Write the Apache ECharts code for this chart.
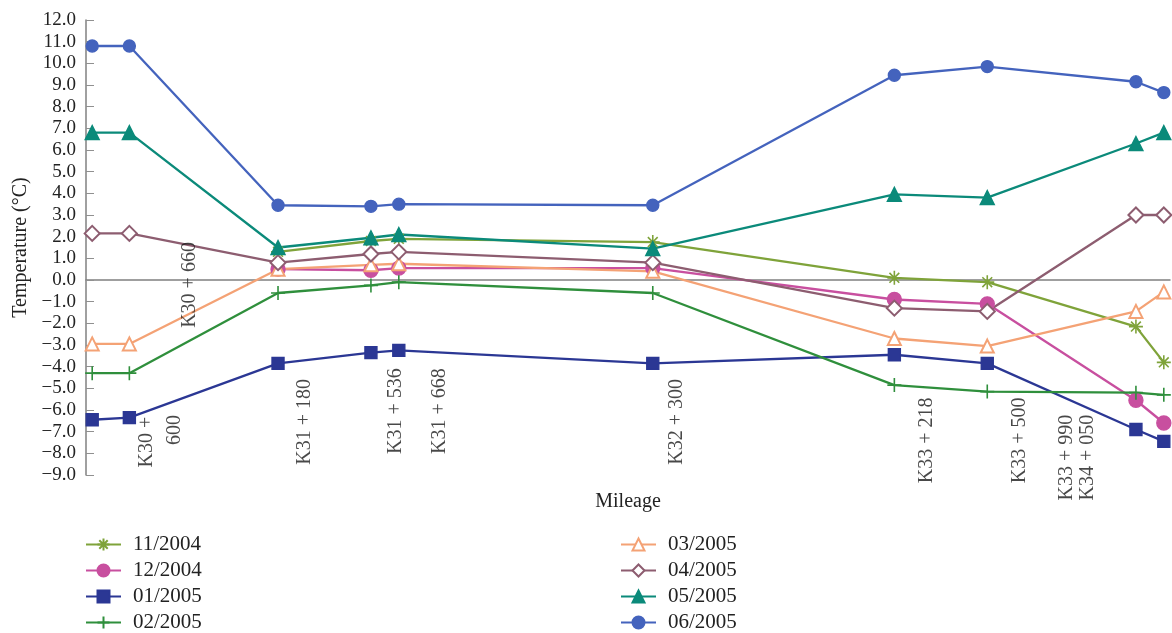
<!DOCTYPE html>
<html>
<head>
<meta charset="utf-8">
<script src="https://cdn.jsdelivr.net/npm/echarts@6/dist/echarts.min.js"></script>
<style>
  html, body { margin: 0; padding: 0; background: #fff; }
  #chart { width: 1172px; height: 633px; }
</style>
</head>
<body>
<div id="chart"></div>
<script>
const mileagePos = [30.52, 30.64, 31.12, 31.42, 31.51, 32.33, 33.11, 33.41, 33.89, 33.98];

const monthNames = ['11/2004', '12/2004', '01/2005', '02/2005', '03/2005', '04/2005', '05/2005', '06/2005'];

// temperature (°C) per month at each point
const t1104 = [null, null, 1.3, 1.8, 1.9, 1.75, 0.1, -0.1, -2.15, -3.8];
const t1204 = [null, null, 0.5, 0.45, 0.55, 0.55, -0.9, -1.1, -5.55, -6.6];
const t0105 = [-6.45, -6.35, -3.85, -3.35, -3.25, -3.85, -3.45, -3.85, -6.9, -7.45];
const t0205 = [-4.3, -4.3, -0.6, -0.25, -0.1, -0.6, -4.85, -5.15, -5.2, -5.3];
const t0305 = [-2.95, -2.95, 0.5, 0.7, 0.75, 0.4, -2.7, -3.05, -1.45, -0.55];
const t0405 = [2.15, 2.15, 0.8, 1.2, 1.3, 0.8, -1.3, -1.45, 3.0, 3.0];
const t0505 = [6.8, 6.8, 1.5, 1.95, 2.1, 1.45, 3.95, 3.8, 6.3, 6.8];
const t0605 = [10.8, 10.8, 3.45, 3.4, 3.5, 3.45, 9.45, 9.85, 9.15, 8.65];

// mileage annotations written inside the plot
const mileTexts = ['K30 +', '600', 'K30 + 660', 'K31 + 180', 'K31 + 536', 'K31 + 668',
  'K32 + 300', 'K33 + 218', 'K33 + 500', 'K33 + 990', 'K34 + 050'];
const mileTextX = [30.697, 30.787, 30.836, 31.207, 31.501, 31.643, 32.408, 33.216, 33.516, 33.668, 33.735];
const mileTextY = [-7.48, -6.92, -0.23, -6.55, -6.05, -6.05, -6.55, -7.4, -7.4, -8.2, -8.2];

const FONT = '"Liberation Serif", "DejaVu Serif", serif';

const asterisk = 'path://M0,-10L0,10M-10,0L10,0M-7,-7L7,7M-7,7L7,-7';
const plus = 'path://M0,-10L0,10M-10,0L10,0';

const styles = [
  { color: '#7fa33a', symbol: asterisk, size: 14, stroke: true },
  { color: '#c84f9f', symbol: 'circle', size: 14 },
  { color: '#2b3794', symbol: 'rect', size: 12 },
  { color: '#2f8f3c', symbol: plus, size: 14, stroke: true },
  { color: '#f4a275', symbol: 'emptyTriangle', size: 13 },
  { color: '#8d5d70', symbol: 'emptyDiamond', size: 15 },
  { color: '#0b8a7a', symbol: 'triangle', size: 14 },
  { color: '#4463bd', symbol: 'circle', size: 12 }
];
const values = [t1104, t1204, t0105, t0205, t0305, t0405, t0505, t0605];

const fmt = (v) => (v < 0 ? '\u2212' : '') + Math.abs(v).toFixed(1);

const series = monthNames.map((name, i) => {
  const s = styles[i];
  return {
    name: name,
    type: 'line',
    data: mileagePos.map((x, j) => [x, values[i][j]]),
    symbol: s.symbol,
    symbolSize: s.size,
    showAllSymbol: true,
    clip: false,
    lineStyle: { color: s.color, width: 2.3 },
    itemStyle: { color: s.color, borderColor: s.color, borderWidth: s.stroke ? 1.6 : 1.4 },
    emphasis: { disabled: true }
  };
});

series.push({
  name: 'mileage',
  type: 'scatter',
  silent: true,
  symbolSize: 1,
  itemStyle: { color: 'rgba(0,0,0,0)' },
  data: mileTexts.map((t, i) => ({ name: t, value: [mileTextX[i], mileTextY[i]] })),
  label: {
    show: true,
    position: 'inside',
    rotate: 90,
    formatter: '{b}',
    fontFamily: FONT,
    fontSize: 20,
    color: '#1a1a1a'
  },
  labelLayout: { hideOverlap: false },
  z: 5
});

const legendCommon = {
  orient: 'vertical',
  padding: 0,
  itemWidth: 35,
  itemHeight: 15,
  itemGap: 5,
  textStyle: { fontFamily: FONT, fontSize: 21, lineHeight: 20, color: '#222', padding: [0, 0, 0, 7] }
};

const chart = echarts.init(document.getElementById('chart'));
chart.setOption({
  animation: false,
  backgroundColor: '#fff',
  grid: { left: 86, right: 2, top: 20, bottom: 158, containLabel: false, outerBoundsMode: 'none' },
  legend: [
    Object.assign({}, legendCommon, { left: 85, top: 534, data: monthNames.slice(0, 4) }),
    Object.assign({}, legendCommon, { left: 620, top: 534, data: monthNames.slice(4) })
  ],
  xAxis: {
    type: 'value',
    min: 30.5,
    max: 34.0,
    name: 'Mileage',
    nameLocation: 'middle',
    nameGap: 17,
    nameTextStyle: { fontFamily: FONT, fontSize: 20, color: '#222' },
    axisLine: { onZero: true, lineStyle: { color: '#808080', width: 1.5 } },
    axisTick: { show: false },
    axisLabel: { show: false },
    splitLine: { show: false }
  },
  yAxis: {
    type: 'value',
    min: -9,
    max: 12,
    interval: 1,
    name: 'Temperature (\u00B0C)',
    nameLocation: 'middle',
    nameGap: 55,
    nameTextStyle: { fontFamily: FONT, fontSize: 20, color: '#222' },
    axisLine: { show: true, lineStyle: { color: '#808080', width: 1.5 } },
    axisTick: { show: true, inside: true, length: 8, lineStyle: { color: '#909090' } },
    axisLabel: {
      formatter: fmt, margin: 10, fontFamily: FONT, fontSize: 19, color: '#222',
      showMinLabel: true, showMaxLabel: true
    },
    splitLine: { show: false }
  },
  series: series
});
</script>
</body>
</html>
